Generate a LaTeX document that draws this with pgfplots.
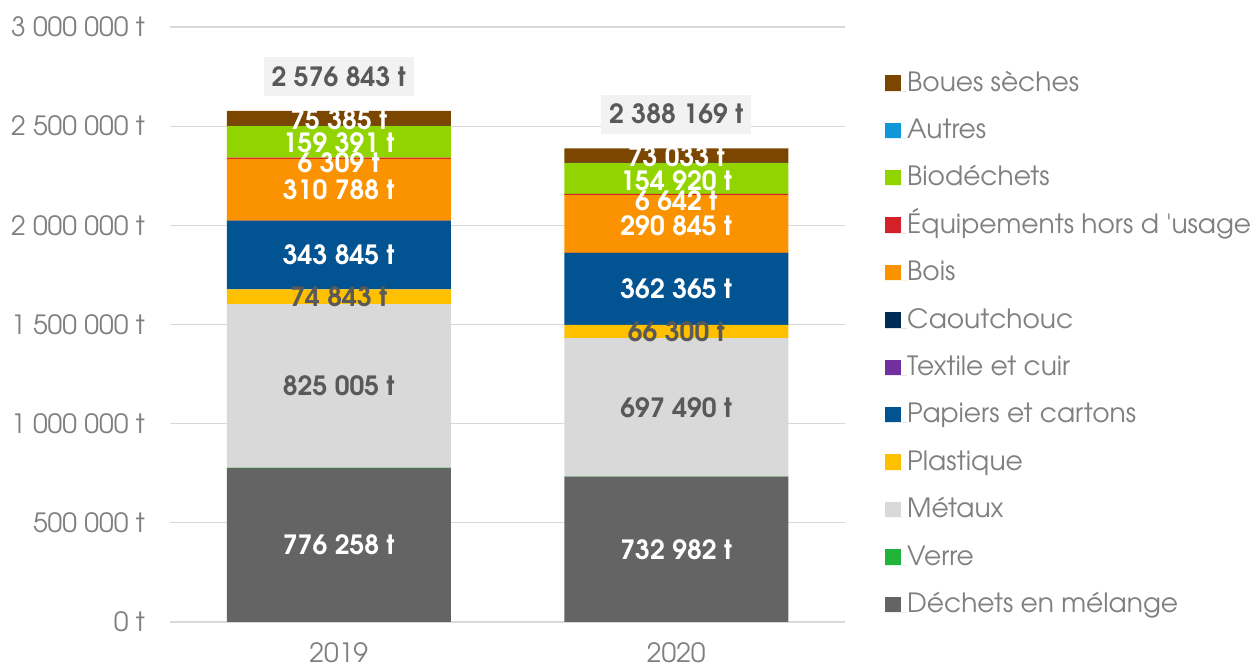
\documentclass[border=0pt]{standalone}
\usepackage{pgfplots}
\pgfplotsset{compat=1.18}
\usepackage{fontspec}
\setmainfont{TeX Gyre Adventor}[Ligatures=TeXOff]
\definecolor{cDech}{HTML}{646464}
\definecolor{cVerre}{HTML}{22B33A}
\definecolor{cMet}{HTML}{D9D9D9}
\definecolor{cPlast}{HTML}{FFC000}
\definecolor{cPap}{HTML}{015392}
\definecolor{cText}{HTML}{7030A0}
\definecolor{cCaou}{HTML}{002B55}
\definecolor{cBois}{HTML}{FB9200}
\definecolor{cEquip}{HTML}{D42027}
\definecolor{cBio}{HTML}{92D400}
\definecolor{cAut}{HTML}{1097D9}
\definecolor{cBoue}{HTML}{7A4600}
\definecolor{gridc}{HTML}{D9D9D9}
\definecolor{tickc}{HTML}{7F7F7F}
\definecolor{lblg}{HTML}{595959}
\definecolor{boxc}{HTML}{F2F2F2}
\newcommand{\tf}{\fontsize{26.5}{31}\selectfont}
\newcommand{\bfl}{\bfseries\fontsize{26.5}{31}\selectfont}
\begin{document}
\begin{tikzpicture}[x=1pt,y=1pt]
\useasboundingbox (0,0) rectangle (1253,666);
\begin{axis}[
  at={(170pt,44pt)}, anchor=south west,
  scale only axis, width=675pt, height=595pt,
  ybar stacked, bar width=224pt,
  xmin=-0.5, xmax=1.5, ymin=0, ymax=3000000,
  xtick={0,1}, xticklabels={2019,2020},
  ytick={0,500000,1000000,1500000,2000000,2500000,3000000},
  yticklabels={0 t,500 000 t,1 000 000 t,1 500 000 t,2 000 000 t,2 500 000 t,3 000 000 t},
  ymajorgrids, grid style={draw=gridc, line width=1.3pt},
  axis line style={draw=none}, major tick length=0pt,
  yticklabel style={font=\tf, text=tickc, anchor=east, inner sep=0pt, xshift=-25pt},
  xticklabel style={font=\tf, text=tickc, anchor=base, inner sep=0pt, yshift=-41pt},
  scaled y ticks=false,
  reverse legend,
  legend image code/.code={\fill[#1,draw=none] (0pt,0.5pt) rectangle (15.5pt,16pt); \path (0pt,0pt) -- (22pt,0pt);},
  legend style={at={(1.0593,0.9244)}, anchor=north west, draw=none, fill=none,
    inner sep=0pt, font=\tf, text=tickc, row sep=23.4pt,
    cells={anchor=base west},
    nodes={inner sep=0pt, text height=19pt, text depth=5pt}},
  legend entries={Déchets en mélange,Verre,Métaux,Plastique,Papiers et cartons,Textile et cuir,Caoutchouc,Bois,Équipements hors d 'usage,Biodéchets,Autres,Boues sèches},
]
\addplot[fill=cDech, draw=none] coordinates {(0,776258) (1,732982)};
\addplot[fill=cVerre, draw=none] coordinates {(0,1500) (1,1000)};
\addplot[fill=cMet, draw=none] coordinates {(0,825005) (1,697490)};
\addplot[fill=cPlast, draw=none] coordinates {(0,74843) (1,66300)};
\addplot[fill=cPap, draw=none] coordinates {(0,343845) (1,362365)};
\addplot[fill=cText, draw=none] coordinates {(0,1200) (1,800)};
\addplot[fill=cCaou, draw=none] coordinates {(0,1000) (1,700)};
\addplot[fill=cBois, draw=none] coordinates {(0,310788) (1,290845)};
\addplot[fill=cEquip, draw=none] coordinates {(0,6309) (1,6642)};
\addplot[fill=cBio, draw=none] coordinates {(0,159391) (1,154920)};
\addplot[fill=cAut, draw=none] coordinates {(0,1319) (1,1092)};
\addplot[fill=cBoue, draw=none] coordinates {(0,75385) (1,73033)};
\end{axis}
\begin{axis}[
  at={(170pt,44pt)}, anchor=south west,
  scale only axis, width=675pt, height=595pt,
  xmin=-0.5, xmax=1.5, ymin=0, ymax=3000000,
  hide axis, clip=false,
]
\addplot[draw=none, mark=none,
  nodes near coords, point meta=explicit symbolic,
  nodes near coords style={anchor=center, font=\bfl, text=white, inner sep=0pt}]
  coordinates {
  (0,388129) [776 258 t] (1,366491) [732 982 t]
  (0,1849528) [343 845 t] (1,1678954) [362 365 t]
  (0,2179045) [310 788 t] (1,2000000) [290 845 t]
  (0,2316000) [6 309 t] (1,2122000) [6 642 t]
  (0,2418000) [159 391 t] (1,2227000) [154 920 t]
  (0,2532000) [75 385 t] (1,2347000) [73 033 t]
  };
\addplot[draw=none, mark=none,
  nodes near coords, point meta=explicit symbolic,
  nodes near coords style={anchor=center, font=\bfl, text=lblg, inner sep=0pt}]
  coordinates {
  (0,1190260) [825 005 t] (1,1082727) [697 490 t]
  (0,1640184) [74 843 t] (1,1464622) [66 300 t]
  };
\addplot[draw=none, mark=none,
  nodes near coords, point meta=explicit symbolic,
  nodes near coords style={anchor=center, font=\bfl, text=lblg, fill=boxc,
    inner xsep=8pt, inner ysep=10pt, text height=19pt, text depth=0pt, yshift=34pt}]
  coordinates {
  (0,2576843) [2 576 843 t] (1,2388169) [2 388 169 t]
  };
\end{axis}
\end{tikzpicture}
\end{document}
